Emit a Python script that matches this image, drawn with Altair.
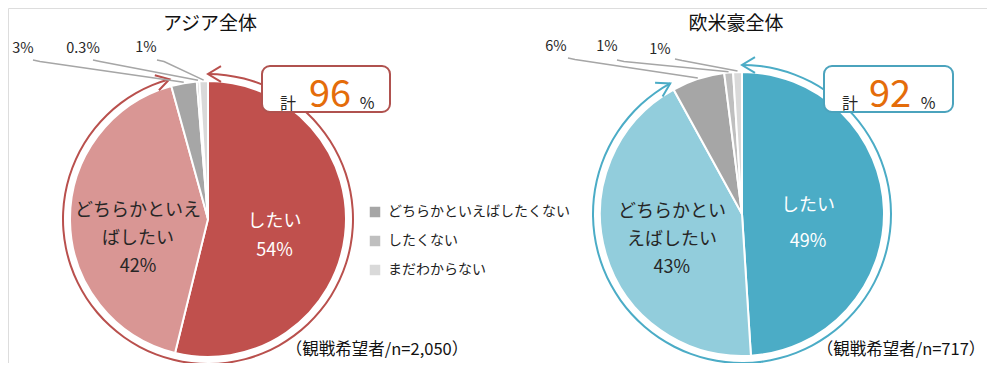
import altair as alt
import pandas as pd
import numpy as np

# ---------------- data ----------------
cats = ["したい", "どちらかといえばしたい", "どちらかといえばしたくない", "したくない", "まだわからない"]
asia_vals = [54, 42, 3, 0.3, 1]
west_vals = [49, 43, 6, 1, 1]
asia_colors = ["#C0504D", "#D99694", "#A6A6A6", "#BFBFBF", "#D9D9D9"]
west_colors = ["#4BACC6", "#92CDDC", "#A6A6A6", "#BFBFBF", "#D9D9D9"]
titles = ["アジア全体", "欧米豪全体"]
total_texts = ["96", "92"]
notes = ["（観戦希望者/n=2,050）", "（観戦希望者/n=717）"]
asia_out_labels = ["3%", "0.3%", "1%"]
west_out_labels = ["6%", "1%", "1%"]
asia_in_labels = ["したい\n54%", "どちらかといえ\nばしたい\n42%"]
west_in_labels = ["したい\n49%", "どちらかとい\nえばしたい\n43%"]

# ---------------- layout (pixel frame of the page) ----------------
W, H = 979, 355
FONT = "Noto Sans CJK JP"
xs = alt.Scale(domain=[8, 8 + W], nice=False, zero=False)
ys = alt.Scale(domain=[8, 8 + H], nice=False, zero=False, reverse=True)
ts = alt.Scale(domain=[0, 1], range=[0, 2 * np.pi])

pies = [
    dict(vals=asia_vals, colors=asia_colors, cx=208, cy=219, r=138, R=145, ring="#B9504D",
         box="#B0524F", box_x=(262, 390), title_x=210, note_x=377,
         out_labels=asia_out_labels, lab_pos=[(23, 49), (83, 49), (146, 48)],
         line_start=[(33, 60), (93, 60), (157, 60)],
         in_labels=asia_in_labels,
         in_style=[dict(r=67, dy=-5, lh=29, color="white"), dict(r=70, dy=-9, lh=28, color="#262626")],
         kei_x=(288, 330, 367), legend=True),
    dict(vals=west_vals, colors=west_colors, cx=742, cy=214, r=142, R=149, ring="#4BACC6",
         box="#4BA3BD", box_x=(824, 953), title_x=736, note_x=901,
         out_labels=west_out_labels, lab_pos=[(556, 47), (607, 47), (660, 50)],
         line_start=[(568, 58), (617, 60), (675, 59)],
         in_labels=west_in_labels,
         in_style=[dict(r=66, dy=-6, lh=36, color="white"), dict(r=73, dy=-22, lh=28, color="#262626")],
         kei_x=(850, 890, 928), legend=False),
]

layers = []
for i, p in enumerate(pies):
    v = np.array(p["vals"], float)
    f = v / v.sum()
    end = np.cumsum(f)
    start = end - f
    df = pd.DataFrame({"cat": cats, "value": p["vals"], "start": start, "end": end,
                       "mid": (start + end) / 2})
    cx, cy = p["cx"], p["cy"]

    legend = None
    if p["legend"]:
        legend = alt.Legend(values=cats[2:], orient="none", legendX=360, legendY=197,
                            title=None, symbolType="square", symbolSize=110,
                            symbolStrokeWidth=0, labelFont=FONT, labelFontSize=14,
                            labelColor="#222222", labelOffset=6, rowPadding=15, padding=0,
                            labelLimit=400)
    pie = alt.Chart(df).mark_arc(outerRadius=p["r"], stroke="white", strokeWidth=2).encode(
        x=alt.value(cx - 8), y=alt.value(cy - 8),
        theta=alt.Theta("start:Q", scale=ts), theta2=alt.Theta2("end"),
        color=alt.Color("cat:N", scale=alt.Scale(domain=cats, range=p["colors"]), legend=legend),
    )
    layers.append(pie)

    # ring (bracket) around the two positive answers
    ring_end = float(end[1])
    ring_df = pd.DataFrame({"start": [0.0], "end": [ring_end]})
    ring = alt.Chart(ring_df).mark_arc(innerRadius=p["R"] - 1, outerRadius=p["R"] + 1,
                                       color=p["ring"]).encode(
        x=alt.value(cx - 8), y=alt.value(cy - 8),
        theta=alt.Theta("start:Q", scale=ts), theta2=alt.Theta2("end"),
    )
    layers.append(ring)

    # arrow heads at both ends of the ring
    ang = np.array([0.0, ring_end * 2 * np.pi])
    arr_df = pd.DataFrame({
        "x": cx + p["R"] * np.sin(ang),
        "y": cy - p["R"] * np.cos(ang),
        "rot": [0.0, (np.degrees(ang[1]) - 180.0) % 360],
    })
    arrows = alt.Chart(arr_df).mark_point(
        shape="M1,-0.6L0,0L1,0.6", filled=False, size=676, strokeWidth=2, color=p["ring"], opacity=1
    ).encode(
        x=alt.X("x:Q", scale=xs, axis=None), y=alt.Y("y:Q", scale=ys, axis=None),
        angle=alt.Angle("rot:Q", scale=None),
    )
    layers.append(arrows)

    # in-slice labels
    for k in range(2):
        st = p["in_style"][k]
        tdf = df.iloc[[k]].assign(label=p["in_labels"][k])
        layers.append(alt.Chart(tdf).mark_text(
            radius=st["r"], dy=st["dy"], lineBreak="\n", lineHeight=st["lh"], fontSize=18,
            font=FONT, color=st["color"], align="center", baseline="middle").encode(
            x=alt.value(cx - 8), y=alt.value(cy - 8),
            theta=alt.Theta("mid:Q", scale=ts), text="label:N"))

    # leader lines for the small slices
    rows = []
    for j in range(3):
        k = j + 2
        a = df["mid"].iloc[k] * 2 * np.pi
        sx, sy = p["line_start"][j]
        ex = cx + (p["r"] + 1) * np.sin(a)
        ey = cy - (p["r"] + 1) * np.cos(a)
        rows += [dict(g=j, o=0, x=sx, y=sy), dict(g=j, o=1, x=sx + 7, y=sy + 1.5),
                 dict(g=j, o=2, x=ex, y=ey)]
    ldf = pd.DataFrame(rows)
    layers.append(alt.Chart(ldf).mark_line(color="#A6A6A6", strokeWidth=1.5).encode(
        x=alt.X("x:Q", scale=xs, axis=None), y=alt.Y("y:Q", scale=ys, axis=None),
        detail="g:N", order="o:Q"))
    odf = pd.DataFrame({"label": p["out_labels"],
                        "x": [q[0] for q in p["lab_pos"]], "y": [q[1] for q in p["lab_pos"]]})
    layers.append(alt.Chart(odf).mark_text(fontSize=14.5, font=FONT, color="#262626",
                                           align="center", baseline="middle").encode(
        x=alt.X("x:Q", scale=xs, axis=None), y=alt.Y("y:Q", scale=ys, axis=None), text="label:N"))

    # callout box
    bdf = pd.DataFrame({"x": [p["box_x"][0]], "x2": [p["box_x"][1]], "y": [66], "y2": [112]})
    layers.append(alt.Chart(bdf).mark_rect(fill="white", stroke=p["box"], strokeWidth=2,
                                           cornerRadius=8).encode(
        x=alt.X("x:Q", scale=xs, axis=None), x2="x2:Q",
        y=alt.Y("y:Q", scale=ys, axis=None), y2="y2:Q"))
    kx = p["kei_x"]
    kdf = pd.DataFrame({"t": ["計", total_texts[i], "%"], "x": list(kx), "y": [109, 107, 109],
                        "s": [16, 38, 16], "c": ["#262626", "#E46C0A", "#262626"]})
    layers.append(alt.Chart(kdf).mark_text(font=FONT, align="center", baseline="alphabetic").encode(
        x=alt.X("x:Q", scale=xs, axis=None), y=alt.Y("y:Q", scale=ys, axis=None), text="t:N",
        size=alt.Size("s:Q", scale=None), color=alt.Color("c:N", scale=None)))

    # title and note
    tdf2 = pd.DataFrame({"t": [titles[i], notes[i]], "x": [p["title_x"], p["note_x"]],
                         "y": [23.5, 350], "s": [19, 16.5]})
    layers.append(alt.Chart(tdf2).mark_text(font=FONT, color="#111111", align="center",
                                            baseline="middle").encode(
        x=alt.X("x:Q", scale=xs, axis=None), y=alt.Y("y:Q", scale=ys, axis=None), text="t:N",
        size=alt.Size("s:Q", scale=None)))

chart = alt.layer(*layers).resolve_scale(color="independent", size="independent").properties(
    width=W, height=H, padding=0, autosize=alt.AutoSizeParams(type="none")
).configure_view(stroke=None).configure(background="white")

chart.save("out.html", embed_options={"renderer": "svg", "actions": False})
